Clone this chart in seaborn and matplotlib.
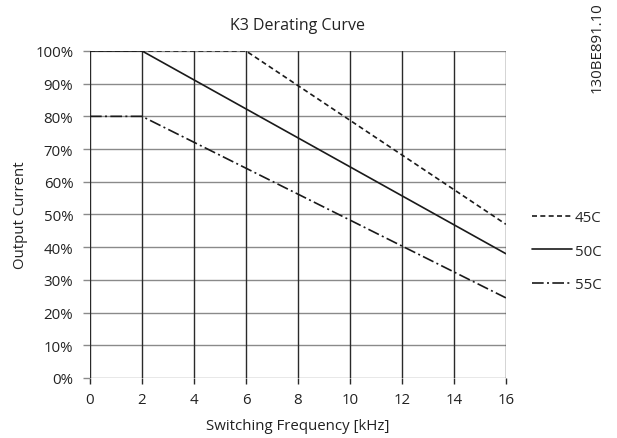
import pandas as pd
import numpy as np
import matplotlib
matplotlib.use('Agg')
import matplotlib.pyplot as plt
import seaborn as sns

freq_45 = [0, 6, 16]
cur_45 = [100, 100, 47]
freq_50 = [0, 2, 16]
cur_50 = [100, 100, 38]
freq_55 = [0, 2, 16]
cur_55 = [80, 80, 24.5]
labels = ['45C', '50C', '55C']
xticks = [0, 2, 4, 6, 8, 10, 12, 14, 16]
yticks = [0, 10, 20, 30, 40, 50, 60, 70, 80, 90, 100]

df = pd.concat([
    pd.DataFrame({'freq': freq_45, 'cur': cur_45, 'curve': labels[0]}),
    pd.DataFrame({'freq': freq_50, 'cur': cur_50, 'curve': labels[1]}),
    pd.DataFrame({'freq': freq_55, 'cur': cur_55, 'curve': labels[2]}),
])

sns.set_style('white')
plt.rcParams['font.family'] = ['Open Sans', 'DejaVu Sans']
fs = 10.8

fig = plt.figure(figsize=(6.17, 4.39), dpi=100)
ax = fig.add_axes([0.1459, 0.1367, 0.674, 0.745])

dashes = {'45C': (3, 2), '50C': '', '55C': (7, 2, 1.2, 2)}
sns.lineplot(data=df, x='freq', y='cur', style='curve', dashes=dashes,
             color='#1a1a1a', linewidth=1.2, ax=ax, legend=True, zorder=5)

ax.set_xlim(0, 16)
ax.set_ylim(0, 100)
ax.set_xticks(xticks)
ax.set_yticks(yticks)
ax.set_yticklabels([f'{v}%' for v in yticks])
ax.grid(False)
for y in yticks:
    ax.axhline(y, color='#8a8a8a', lw=1.0, zorder=1)
for x in xticks:
    ax.axvline(x, color='#2a2a2a', lw=1.0, zorder=2)
for s in ax.spines.values():
    s.set_visible(False)
ax.tick_params(axis='x', direction='out', length=4, width=1, color='#2a2a2a', pad=6, labelsize=fs, labelcolor='#222222')
ax.tick_params(axis='y', direction='out', length=5, width=1, color='#8a8a8a', pad=7, labelsize=fs, labelcolor='#222222')
ax.tick_params(bottom=True, left=True)

ax.set_xlabel('Switching Frequency [kHz]', fontsize=fs, color='#222222', labelpad=8)
ax.set_ylabel('Output Current', fontsize=fs, color='#222222', labelpad=5)
ax.set_title('K3 Derating Curve', fontsize=11.5, color='#222222', pad=16)

ax.legend(loc='center left', bbox_to_anchor=(1.03, 0.388), frameon=False,
          handlelength=2.7, handletextpad=0.15, labelspacing=1.22, fontsize=fs, title=None)

fig.text(0.968, 0.995, '130BE891.10', rotation=90, ha='center', va='top', fontsize=fs, color='#222222')

fig.savefig('out.png', dpi=100)
